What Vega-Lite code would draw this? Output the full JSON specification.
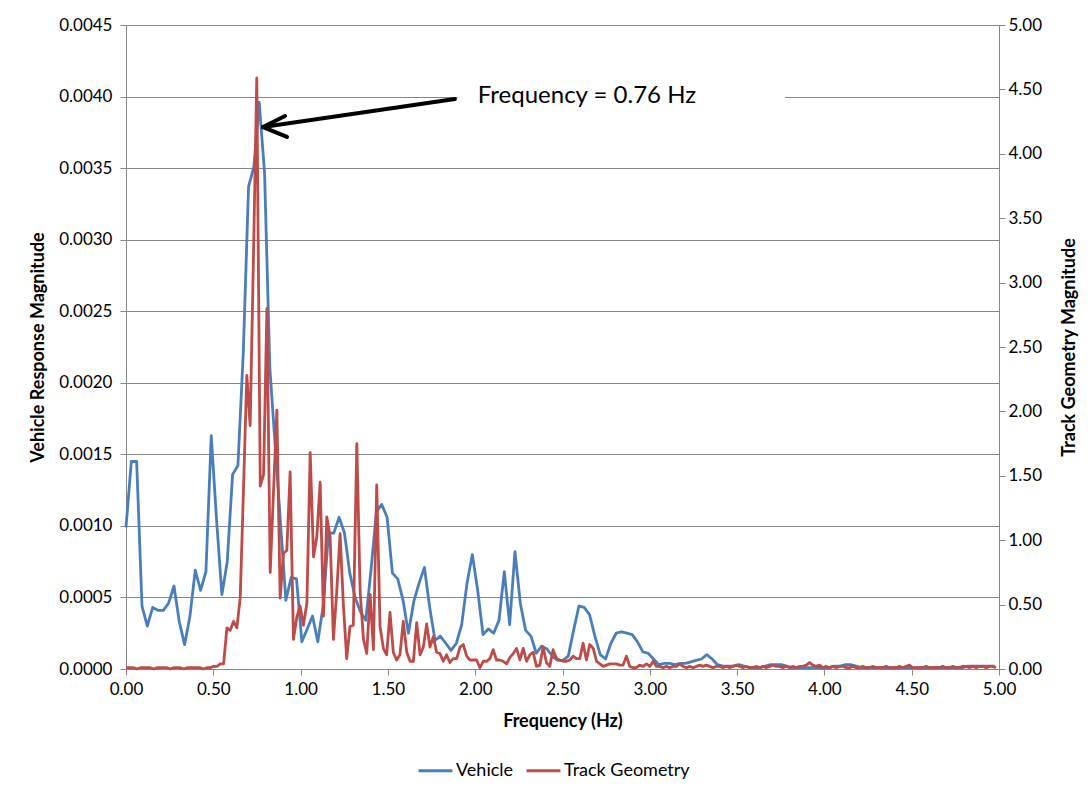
{
 "$schema": "https://vega.github.io/schema/vega-lite/v6.json",
 "width": 873,
 "height": 644,
 "autosize": {"type": "none"},
 "padding": {"left": 126, "top": 25, "right": 91, "bottom": 126},
 "background": "white",
 "config": {
  "font": "Lato",
  "view": {"stroke": null},
  "axis": {"labelFont": "Lato", "labelFontSize": 17, "labelColor": "#000000", "titleFont": "Lato", "titleFontSize": 18, "titleFontWeight": "bold", "titleColor": "#000000", "domainColor": "#868686", "tickColor": "#868686", "gridColor": "#868686", "tickSize": 6, "domainWidth": 1, "gridWidth": 1, "tickWidth": 1, "labelFlush": false}
 },
 "datasets": {
  "vehicle": [
   {"f":0,"v":0.00099},{"f":0.0305,"v":0.00145},{"f":0.0610,"v":0.00145},{"f":0.0916,"v":0.00044},{"f":0.1221,"v":0.00030},
   {"f":0.1526,"v":0.00043},{"f":0.1831,"v":0.00041},{"f":0.2136,"v":0.00041},{"f":0.2441,"v":0.00046},{"f":0.2747,"v":0.00058},
   {"f":0.3052,"v":0.00033},{"f":0.3357,"v":0.00017},{"f":0.3662,"v":0.00037},{"f":0.3967,"v":0.00069},{"f":0.4273,"v":0.00055},
   {"f":0.4578,"v":0.00068},{"f":0.4883,"v":0.00163},{"f":0.5188,"v":0.00104},{"f":0.5493,"v":0.00052},{"f":0.5798,"v":0.00075},
   {"f":0.6104,"v":0.00136},{"f":0.6409,"v":0.00142},{"f":0.6714,"v":0.0022},{"f":0.7019,"v":0.00337},{"f":0.7324,"v":0.00351},
   {"f":0.7629,"v":0.00396},{"f":0.7935,"v":0.00347},{"f":0.8240,"v":0.0021},{"f":0.8545,"v":0.00156},{"f":0.8850,"v":0.00102},
   {"f":0.9155,"v":0.00048},{"f":0.9460,"v":0.00064},{"f":0.9766,"v":0.00063},{"f":1.0071,"v":0.00019},{"f":1.0376,"v":0.00028},
   {"f":1.0681,"v":0.00037},{"f":1.0986,"v":0.00019},{"f":1.1292,"v":0.00044},{"f":1.1597,"v":0.00095},{"f":1.1902,"v":0.00095},
   {"f":1.2207,"v":0.00106},{"f":1.2512,"v":0.00095},{"f":1.2817,"v":0.00067},{"f":1.3123,"v":0.0005},{"f":1.3428,"v":0.0004},
   {"f":1.3733,"v":0.00034},{"f":1.4038,"v":0.0007},{"f":1.4343,"v":0.0011},{"f":1.4648,"v":0.00115},{"f":1.4954,"v":0.00106},
   {"f":1.5259,"v":0.00067},{"f":1.5564,"v":0.00063},{"f":1.5869,"v":0.00048},{"f":1.6174,"v":0.00025},{"f":1.6479,"v":0.00047},
   {"f":1.6785,"v":0.0006},{"f":1.7090,"v":0.00071},{"f":1.7395,"v":0.00043},{"f":1.7700,"v":0.0002},{"f":1.8005,"v":0.00023},
   {"f":1.8311,"v":0.00018},{"f":1.8616,"v":0.00013},{"f":1.8921,"v":0.00018},{"f":1.9226,"v":0.00031},{"f":1.9531,"v":0.0006},
   {"f":1.9836,"v":0.0008},{"f":2.0142,"v":0.00055},{"f":2.0447,"v":0.00024},{"f":2.0752,"v":0.00028},{"f":2.1057,"v":0.00025},
   {"f":2.1362,"v":0.00034},{"f":2.1667,"v":0.00068},{"f":2.1973,"v":0.00031},{"f":2.2278,"v":0.00082},{"f":2.2583,"v":0.00046},
   {"f":2.2888,"v":0.00027},{"f":2.3193,"v":0.00023},{"f":2.3499,"v":0.00011},{"f":2.3804,"v":0.00016},{"f":2.4109,"v":0.00014},
   {"f":2.4414,"v":0.00009},{"f":2.4719,"v":0.00006},{"f":2.5024,"v":0.00006},{"f":2.5330,"v":0.00009},{"f":2.5635,"v":0.00027},
   {"f":2.5940,"v":0.00044},{"f":2.6245,"v":0.00043},{"f":2.6550,"v":0.00038},{"f":2.6855,"v":0.00023},{"f":2.7161,"v":0.0001},
   {"f":2.7466,"v":0.00007},{"f":2.7771,"v":0.00018},{"f":2.8076,"v":0.00025},{"f":2.8381,"v":0.00026},{"f":2.8687,"v":0.00025},
   {"f":2.8992,"v":0.00024},{"f":2.9297,"v":0.00019},{"f":2.9602,"v":0.00012},{"f":2.9907,"v":0.00011},{"f":3.0212,"v":0.00007},
   {"f":3.0518,"v":0.00003},{"f":3.0823,"v":0.00004},{"f":3.1128,"v":0.00004},{"f":3.1433,"v":0.00003},{"f":3.1738,"v":0.00004},
   {"f":3.2043,"v":0.00004},{"f":3.2349,"v":0.00005},{"f":3.2654,"v":0.00006},{"f":3.2959,"v":0.00007},{"f":3.3264,"v":0.0001},
   {"f":3.3569,"v":0.00007},{"f":3.3875,"v":0.00003},{"f":3.4180,"v":0.00002},{"f":3.4485,"v":0.00002},{"f":3.4790,"v":0.00002},
   {"f":3.5095,"v":0.00003},{"f":3.5400,"v":0.00002},{"f":3.5706,"v":0.00001},{"f":3.6011,"v":0.00001},{"f":3.6316,"v":0.00001},
   {"f":3.6621,"v":0.00002},{"f":3.6926,"v":0.00003},{"f":3.7231,"v":0.00003},{"f":3.7537,"v":0.00003},{"f":3.7842,"v":0.00002},
   {"f":3.8147,"v":0.00001},{"f":3.8452,"v":0.00001},{"f":3.8757,"v":0.00001},{"f":3.9063,"v":0.00001},{"f":3.9368,"v":0.00001},
   {"f":3.9673,"v":0.00001},{"f":3.9978,"v":0.00001},{"f":4.0283,"v":0.00001},{"f":4.0588,"v":0.00002},{"f":4.0894,"v":0.00002},
   {"f":4.1199,"v":0.00003},{"f":4.1504,"v":0.00003},{"f":4.1809,"v":0.00002},{"f":4.2114,"v":0.00001},{"f":4.2419,"v":0.00001},
   {"f":4.2725,"v":0.00001},{"f":4.3030,"v":0.00001},{"f":4.3335,"v":0.00001},{"f":4.3640,"v":0.00001},{"f":4.3945,"v":0.00001},
   {"f":4.4250,"v":0.00001},{"f":4.4556,"v":0.00001},{"f":4.4861,"v":0.00001},{"f":4.5166,"v":0.00001},{"f":4.5471,"v":0.00001},
   {"f":4.5776,"v":0.00001},{"f":4.6082,"v":0.00001},{"f":4.6387,"v":0.00001},{"f":4.6692,"v":0.00001},{"f":4.6997,"v":0.00001},
   {"f":4.7302,"v":0.00001},{"f":4.7607,"v":0.00001},{"f":4.7913,"v":0.00001},{"f":4.8218,"v":0.00002},{"f":4.8523,"v":0.00002},
   {"f":4.8828,"v":0.00002},{"f":4.9133,"v":0.00002},{"f":4.9438,"v":0.00002},{"f":4.9744,"v":0.00002}
  ],
  "track": [
   {"f":0,"t":0.01},{"f":0.025,"t":0.01},{"f":0.044,"t":0.01},{"f":0.063,"t":0.0},{"f":0.082,"t":0.01},{"f":0.101,"t":0.01},{"f":0.120,"t":0.01},{"f":0.139,"t":0.01},{"f":0.158,"t":0.0},{"f":0.177,"t":0.01},
   {"f":0.196,"t":0.01},{"f":0.216,"t":0.01},{"f":0.235,"t":0.01},{"f":0.254,"t":0.0},{"f":0.273,"t":0.01},{"f":0.292,"t":0.01},{"f":0.311,"t":0.01},{"f":0.330,"t":0.0},{"f":0.349,"t":0.01},{"f":0.368,"t":0.01},
   {"f":0.387,"t":0.01},{"f":0.406,"t":0.01},{"f":0.425,"t":0.01},{"f":0.444,"t":0.0},{"f":0.463,"t":0.01},{"f":0.483,"t":0.01},{"f":0.502,"t":0.02},{"f":0.521,"t":0.02},{"f":0.540,"t":0.04},{"f":0.559,"t":0.04},
   {"f":0.578,"t":0.32},{"f":0.597,"t":0.30},{"f":0.616,"t":0.37},{"f":0.635,"t":0.32},{"f":0.654,"t":0.55},{"f":0.673,"t":1.40},{"f":0.692,"t":2.28},{"f":0.711,"t":1.89},{"f":0.730,"t":3.20},{"f":0.749,"t":4.59},
   {"f":0.769,"t":1.42},{"f":0.788,"t":1.51},{"f":0.807,"t":2.80},{"f":0.826,"t":0.75},{"f":0.845,"t":1.38},{"f":0.864,"t":2.01},{"f":0.883,"t":0.55},{"f":0.902,"t":0.90},{"f":0.921,"t":0.92},{"f":0.940,"t":1.53},
   {"f":0.959,"t":0.23},{"f":0.978,"t":0.40},{"f":0.997,"t":0.49},{"f":1.016,"t":0.34},{"f":1.036,"t":0.51},{"f":1.055,"t":1.68},{"f":1.074,"t":0.87},{"f":1.093,"t":1.03},{"f":1.112,"t":1.45},{"f":1.131,"t":0.41},
   {"f":1.150,"t":1.18},{"f":1.169,"t":1.03},{"f":1.188,"t":0.23},{"f":1.207,"t":0.60},{"f":1.226,"t":1.05},{"f":1.245,"t":0.50},{"f":1.264,"t":0.08},{"f":1.283,"t":0.33},{"f":1.302,"t":0.34},{"f":1.322,"t":1.75},
   {"f":1.341,"t":0.60},{"f":1.360,"t":0.23},{"f":1.379,"t":0.12},{"f":1.398,"t":0.58},{"f":1.417,"t":0.15},{"f":1.436,"t":1.43},{"f":1.455,"t":0.33},{"f":1.474,"t":0.16},{"f":1.493,"t":0.11},{"f":1.512,"t":0.44},
   {"f":1.531,"t":0.13},{"f":1.550,"t":0.07},{"f":1.569,"t":0.11},{"f":1.588,"t":0.37},{"f":1.608,"t":0.13},{"f":1.627,"t":0.06},{"f":1.646,"t":0.06},{"f":1.665,"t":0.36},{"f":1.684,"t":0.11},{"f":1.703,"t":0.17},
   {"f":1.722,"t":0.35},{"f":1.741,"t":0.17},{"f":1.760,"t":0.25},{"f":1.779,"t":0.13},{"f":1.798,"t":0.12},{"f":1.817,"t":0.06},{"f":1.836,"t":0.11},{"f":1.855,"t":0.05},{"f":1.874,"t":0.08},{"f":1.894,"t":0.08},
   {"f":1.913,"t":0.17},{"f":1.932,"t":0.19},{"f":1.951,"t":0.10},{"f":1.970,"t":0.07},{"f":1.989,"t":0.07},{"f":2.008,"t":0.07},{"f":2.027,"t":0.01},{"f":2.046,"t":0.06},{"f":2.065,"t":0.06},{"f":2.084,"t":0.08},
   {"f":2.103,"t":0.15},{"f":2.122,"t":0.07},{"f":2.141,"t":0.07},{"f":2.160,"t":0.06},{"f":2.180,"t":0.04},{"f":2.199,"t":0.09},{"f":2.218,"t":0.12},{"f":2.237,"t":0.16},{"f":2.256,"t":0.07},{"f":2.275,"t":0.16},
   {"f":2.294,"t":0.06},{"f":2.313,"t":0.11},{"f":2.332,"t":0.13},{"f":2.351,"t":0.02},{"f":2.370,"t":0.03},{"f":2.389,"t":0.17},{"f":2.408,"t":0.05},{"f":2.427,"t":0.02},{"f":2.446,"t":0.15},{"f":2.466,"t":0.08},
   {"f":2.485,"t":0.07},{"f":2.504,"t":0.06},{"f":2.523,"t":0.06},{"f":2.542,"t":0.07},{"f":2.561,"t":0.10},{"f":2.580,"t":0.08},{"f":2.599,"t":0.08},{"f":2.618,"t":0.20},{"f":2.637,"t":0.07},{"f":2.656,"t":0.19},
   {"f":2.676,"t":0.16},{"f":2.695,"t":0.06},{"f":2.714,"t":0.04},{"f":2.733,"t":0.02},{"f":2.752,"t":0.03},{"f":2.771,"t":0.04},{"f":2.790,"t":0.04},{"f":2.809,"t":0.04},{"f":2.828,"t":0.03},{"f":2.847,"t":0.03},
   {"f":2.866,"t":0.10},{"f":2.885,"t":0.02},{"f":2.904,"t":0.01},{"f":2.923,"t":0.01},{"f":2.942,"t":0.03},{"f":2.962,"t":0.02},{"f":2.981,"t":0.04},{"f":3.000,"t":0.02},{"f":3.019,"t":0.06},{"f":3.038,"t":0.02},
   {"f":3.057,"t":0.02},{"f":3.076,"t":0.01},{"f":3.095,"t":0.02},{"f":3.114,"t":0.01},{"f":3.133,"t":0.02},{"f":3.152,"t":0.02},{"f":3.171,"t":0.04},{"f":3.190,"t":0.02},{"f":3.209,"t":0.01},{"f":3.228,"t":0.02},
   {"f":3.248,"t":0.01},{"f":3.267,"t":0.02},{"f":3.286,"t":0.03},{"f":3.305,"t":0.02},{"f":3.324,"t":0.03},{"f":3.343,"t":0.02},{"f":3.362,"t":0.01},{"f":3.381,"t":0.02},{"f":3.400,"t":0.02},{"f":3.419,"t":0.01},
   {"f":3.438,"t":0.02},{"f":3.457,"t":0.01},{"f":3.476,"t":0.02},{"f":3.495,"t":0.03},{"f":3.515,"t":0.02},{"f":3.534,"t":0.01},{"f":3.553,"t":0.02},{"f":3.572,"t":0.01},{"f":3.591,"t":0.01},{"f":3.610,"t":0.02},
   {"f":3.629,"t":0.01},{"f":3.648,"t":0.02},{"f":3.667,"t":0.01},{"f":3.686,"t":0.02},{"f":3.705,"t":0.03},{"f":3.724,"t":0.02},{"f":3.743,"t":0.02},{"f":3.762,"t":0.01},{"f":3.781,"t":0.02},{"f":3.801,"t":0.01},
   {"f":3.820,"t":0.02},{"f":3.839,"t":0.01},{"f":3.858,"t":0.02},{"f":3.877,"t":0.02},{"f":3.896,"t":0.03},{"f":3.915,"t":0.05},{"f":3.934,"t":0.03},{"f":3.953,"t":0.02},{"f":3.972,"t":0.03},{"f":3.991,"t":0.01},
   {"f":4.010,"t":0.02},{"f":4.029,"t":0.01},{"f":4.048,"t":0.02},{"f":4.067,"t":0.01},{"f":4.087,"t":0.02},{"f":4.106,"t":0.02},{"f":4.125,"t":0.01},{"f":4.144,"t":0.01},{"f":4.163,"t":0.02},{"f":4.182,"t":0.01},
   {"f":4.201,"t":0.01},{"f":4.220,"t":0.02},{"f":4.239,"t":0.01},{"f":4.258,"t":0.01},{"f":4.277,"t":0.02},{"f":4.296,"t":0.01},{"f":4.315,"t":0.01},{"f":4.334,"t":0.01},{"f":4.354,"t":0.02},{"f":4.373,"t":0.01},
   {"f":4.392,"t":0.01},{"f":4.411,"t":0.01},{"f":4.430,"t":0.02},{"f":4.449,"t":0.01},{"f":4.468,"t":0.02},{"f":4.487,"t":0.03},{"f":4.506,"t":0.01},{"f":4.525,"t":0.01},{"f":4.544,"t":0.01},{"f":4.563,"t":0.01},
   {"f":4.583,"t":0.02},{"f":4.602,"t":0.01},{"f":4.621,"t":0.01},{"f":4.640,"t":0.01},{"f":4.659,"t":0.01},{"f":4.678,"t":0.02},{"f":4.697,"t":0.01},{"f":4.716,"t":0.01},{"f":4.735,"t":0.02},{"f":4.754,"t":0.01},
   {"f":4.773,"t":0.01},{"f":4.792,"t":0.02},{"f":4.811,"t":0.02},{"f":4.830,"t":0.01},{"f":4.849,"t":0.02},{"f":4.869,"t":0.01},{"f":4.888,"t":0.02},{"f":4.907,"t":0.02},{"f":4.926,"t":0.01},{"f":4.945,"t":0.02},
   {"f":4.964,"t":0.02},{"f":4.983,"t":0.01}
  ],
  "box": [{"f":1.90,"f2":3.775,"v":0.00394,"v2":0.00407}],
  "arrow": [
   {"f":0.785,"v":0.003787,"f2":1.884,"v2":0.003983},
   {"f":0.785,"v":0.003787,"f2":0.911,"v2":0.003864},
   {"f":0.785,"v":0.003787,"f2":0.922,"v2":0.003718}
  ],
  "label": [{"f":2.64,"v":0.004004,"txt":"Frequency = 0.76 Hz"}]
 },
 "layer": [
  {
   "encoding": {
    "x": {"field": "f", "type": "quantitative", "scale": {"domain": [0, 5], "nice": false},
          "axis": {"values": [0,0.5,1,1.5,2,2.5,3,3.5,4,4.5,5], "format": ".2f", "title": "Frequency (Hz)", "grid": false, "labelPadding": 6, "titlePadding": 15}},
    "y": {"field": "v", "type": "quantitative", "scale": {"domain": [0, 0.0045], "nice": false},
          "axis": {"orient": "left", "values": [0,0.0005,0.001,0.0015,0.002,0.0025,0.003,0.0035,0.004,0.0045], "format": ".4f", "title": "Vehicle Response Magnitude", "grid": true, "labelPadding": 8, "titlePadding": 11}}
   },
   "layer": [
    {"data": {"name": "vehicle"}, "mark": {"type": "line", "strokeWidth": 2.8, "strokeJoin": "round"},
     "encoding": {"color": {"datum": "Vehicle", "type": "nominal",
        "scale": {"domain": ["Vehicle", "Track Geometry"], "range": ["#4A7EBB", "#BE4B48"]},
        "legend": {"orient": "none", "legendX": 291, "legendY": 727, "direction": "horizontal", "title": null, "symbolType": "stroke", "symbolStrokeWidth": 3, "symbolSize": 1150, "labelFont": "Lato", "labelFontSize": 18, "labelColor": "#000000", "columnPadding": 6, "labelOffset": 2}}}},
    {"data": {"name": "box"}, "mark": {"type": "rect", "color": "white"},
     "encoding": {"x2": {"field": "f2"}, "y2": {"field": "v2"}}},
    {"data": {"name": "arrow"}, "mark": {"type": "rule", "color": "black", "strokeWidth": 4, "strokeCap": "round"},
     "encoding": {"x2": {"field": "f2"}, "y2": {"field": "v2"}}},
    {"data": {"name": "label"}, "mark": {"type": "text", "font": "Lato", "fontSize": 24, "align": "center", "baseline": "middle", "color": "#000000"},
     "encoding": {"text": {"field": "txt"}}}
   ]
  },
  {
   "data": {"name": "track"},
   "mark": {"type": "line", "strokeWidth": 2.8, "strokeJoin": "round"},
   "encoding": {
    "x": {"field": "f", "type": "quantitative"},
    "y": {"field": "t", "type": "quantitative", "scale": {"domain": [0, 5], "nice": false},
          "axis": {"orient": "right", "values": [0,0.5,1,1.5,2,2.5,3,3.5,4,4.5,5], "format": ".2f", "title": "Track Geometry Magnitude", "grid": false, "titleAngle": 270, "labelPadding": 3, "titlePadding": 37}},
    "color": {"datum": "Track Geometry", "type": "nominal"}
   }
  }
 ],
 "resolve": {"scale": {"y": "independent"}}
}
